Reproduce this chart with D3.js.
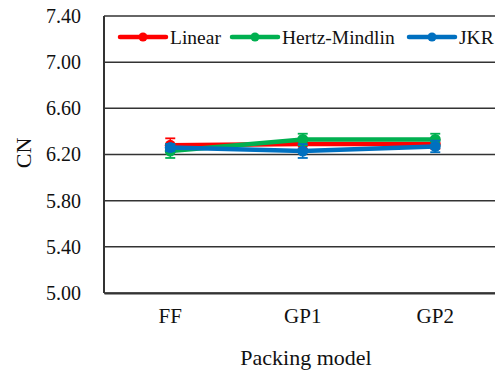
<!DOCTYPE html>
<html lang="en">
<head>
    <meta charset="UTF-8">
    <title>CN by packing model</title>
    <style type="text/css">
        body {
            margin: 0;
            background-color: #fff;
        }
        svg text {
            font-family: 'Liberation Serif', 'DejaVu Serif', serif;
            fill: #111;
        }
    </style>
</head>
<body>
<div id="chart"></div>
<script type="text/javascript" src="https://cdn.jsdelivr.net/npm/d3@7"></script>
<script type="text/javascript">
    var categories = ["FF", "GP1", "GP2"];
    var seriesNames = ["Linear", "Hertz-Mindlin", "JKR"];
    var seriesColors = ["#ff0000", "#00b050", "#0070c0"];

    var linearValues = [6.28, 6.29, 6.29];
    var linearErrors = [0.06, 0.04, 0.04];
    var hertzValues = [6.23, 6.33, 6.33];
    var hertzErrors = [0.06, 0.05, 0.05];
    var jkrValues = [6.26, 6.23, 6.27];
    var jkrErrors = [0.03, 0.06, 0.05];

    var yTicks = [5.00, 5.40, 5.80, 6.20, 6.60, 7.00, 7.40];

    var series = [
        {name: seriesNames[0], color: seriesColors[0], values: linearValues, errors: linearErrors},
        {name: seriesNames[1], color: seriesColors[1], values: hertzValues, errors: hertzErrors},
        {name: seriesNames[2], color: seriesColors[2], values: jkrValues, errors: jkrErrors}
    ];

    var W = 495, H = 372;
    var margin = {top: 16, left: 104, bottom: 79},
        width = 397.5,
        height = H - margin.top - margin.bottom;

    var serif = "'Liberation Serif', 'DejaVu Serif', serif";

    var svg = d3.select("#chart").append("svg")
        .attr("width", W)
        .attr("height", H);

    var g = svg.append("g")
        .attr("transform", "translate(" + margin.left + "," + margin.top + ")");

    var x = d3.scaleBand()
        .domain(categories)
        .range([0, width]);

    var y = d3.scaleLinear()
        .domain([5.0, 7.4])
        .range([height, 0]);

    // grid lines
    g.selectAll(".grid")
        .data(yTicks)
        .enter().append("line")
        .attr("class", "grid")
        .attr("x1", 0)
        .attr("x2", width)
        .attr("y1", function (d) { return y(d); })
        .attr("y2", function (d) { return y(d); })
        .attr("stroke", "#333")
        .attr("stroke-width", 1.5);

    // y axis
    var yAxis = d3.axisLeft(y)
        .tickValues(yTicks)
        .tickFormat(d3.format(".2f"))
        .tickSize(0)
        .tickPadding(23);

    var yg = g.append("g")
        .call(yAxis)
        .attr("font-family", serif)
        .attr("font-size", 20);
    yg.select(".domain").remove();

    g.append("line")
        .attr("x1", 0).attr("x2", 0)
        .attr("y1", 0).attr("y2", height)
        .attr("stroke", "#333")
        .attr("stroke-width", 2);

    // x axis
    var xAxis = d3.axisBottom(x)
        .tickSize(0)
        .tickPadding(15);

    var xg = g.append("g")
        .attr("transform", "translate(0," + height + ")")
        .call(xAxis)
        .attr("font-family", serif)
        .attr("font-size", 21);
    xg.select(".domain").attr("stroke", "#333").attr("stroke-width", 2);

    // axis titles
    svg.append("text")
        .attr("x", 306)
        .attr("y", 365)
        .attr("text-anchor", "middle")
        .attr("font-family", serif)
        .attr("font-size", 22)
        .text("Packing model");

    svg.append("text")
        .attr("transform", "translate(31,153) rotate(-90)")
        .attr("text-anchor", "middle")
        .attr("font-family", serif)
        .attr("font-size", 22)
        .text("CN");

    var cx = function (i) { return x(categories[i]) + x.bandwidth() / 2; };

    var line = d3.line()
        .x(function (d, i) { return cx(i); })
        .y(function (d) { return y(d); });

    var layer = g.selectAll(".series")
        .data(series)
        .enter().append("g")
        .attr("class", "series");

    // error bars
    layer.each(function (s) {
        var sg = d3.select(this);
        s.values.forEach(function (v, i) {
            var e = s.errors[i];
            sg.append("line")
                .attr("x1", cx(i)).attr("x2", cx(i))
                .attr("y1", y(v - e)).attr("y2", y(v + e))
                .attr("stroke", s.color).attr("stroke-width", 1.5);
            [v - e, v + e].forEach(function (c) {
                sg.append("line")
                    .attr("x1", cx(i) - 5).attr("x2", cx(i) + 5)
                    .attr("y1", y(c)).attr("y2", y(c))
                    .attr("stroke", s.color).attr("stroke-width", 1.8);
            });
        });
    });

    layer.append("path")
        .attr("d", function (s) { return line(s.values); })
        .attr("fill", "none")
        .attr("stroke", function (s) { return s.color; })
        .attr("stroke-width", 4.5)
        .attr("stroke-linecap", "round");

    layer.selectAll("circle")
        .data(function (s) { return s.values.map(function (v) { return {v: v, color: s.color}; }); })
        .enter().append("circle")
        .attr("cx", function (d, i) { return cx(i); })
        .attr("cy", function (d) { return y(d.v); })
        .attr("r", 5.5)
        .attr("fill", function (d) { return d.color; });

    // legend
    var legendX = [120, 232, 409];
    var legend = svg.selectAll(".legend")
        .data(series)
        .enter().append("g")
        .attr("class", "legend")
        .attr("transform", function (d, i) { return "translate(" + legendX[i] + ",37)"; });

    legend.append("line")
        .attr("x1", 0).attr("x2", 46)
        .attr("y1", 0).attr("y2", 0)
        .attr("stroke", function (d) { return d.color; })
        .attr("stroke-width", 4.5)
        .attr("stroke-linecap", "round");

    legend.append("circle")
        .attr("cx", 23).attr("cy", 0).attr("r", 4.5)
        .attr("fill", function (d) { return d.color; });

    legend.append("text")
        .attr("x", 50)
        .attr("y", 7)
        .attr("font-family", serif)
        .attr("font-size", 19.5)
        .text(function (d) { return d.name; });
</script>
</body>
</html>
